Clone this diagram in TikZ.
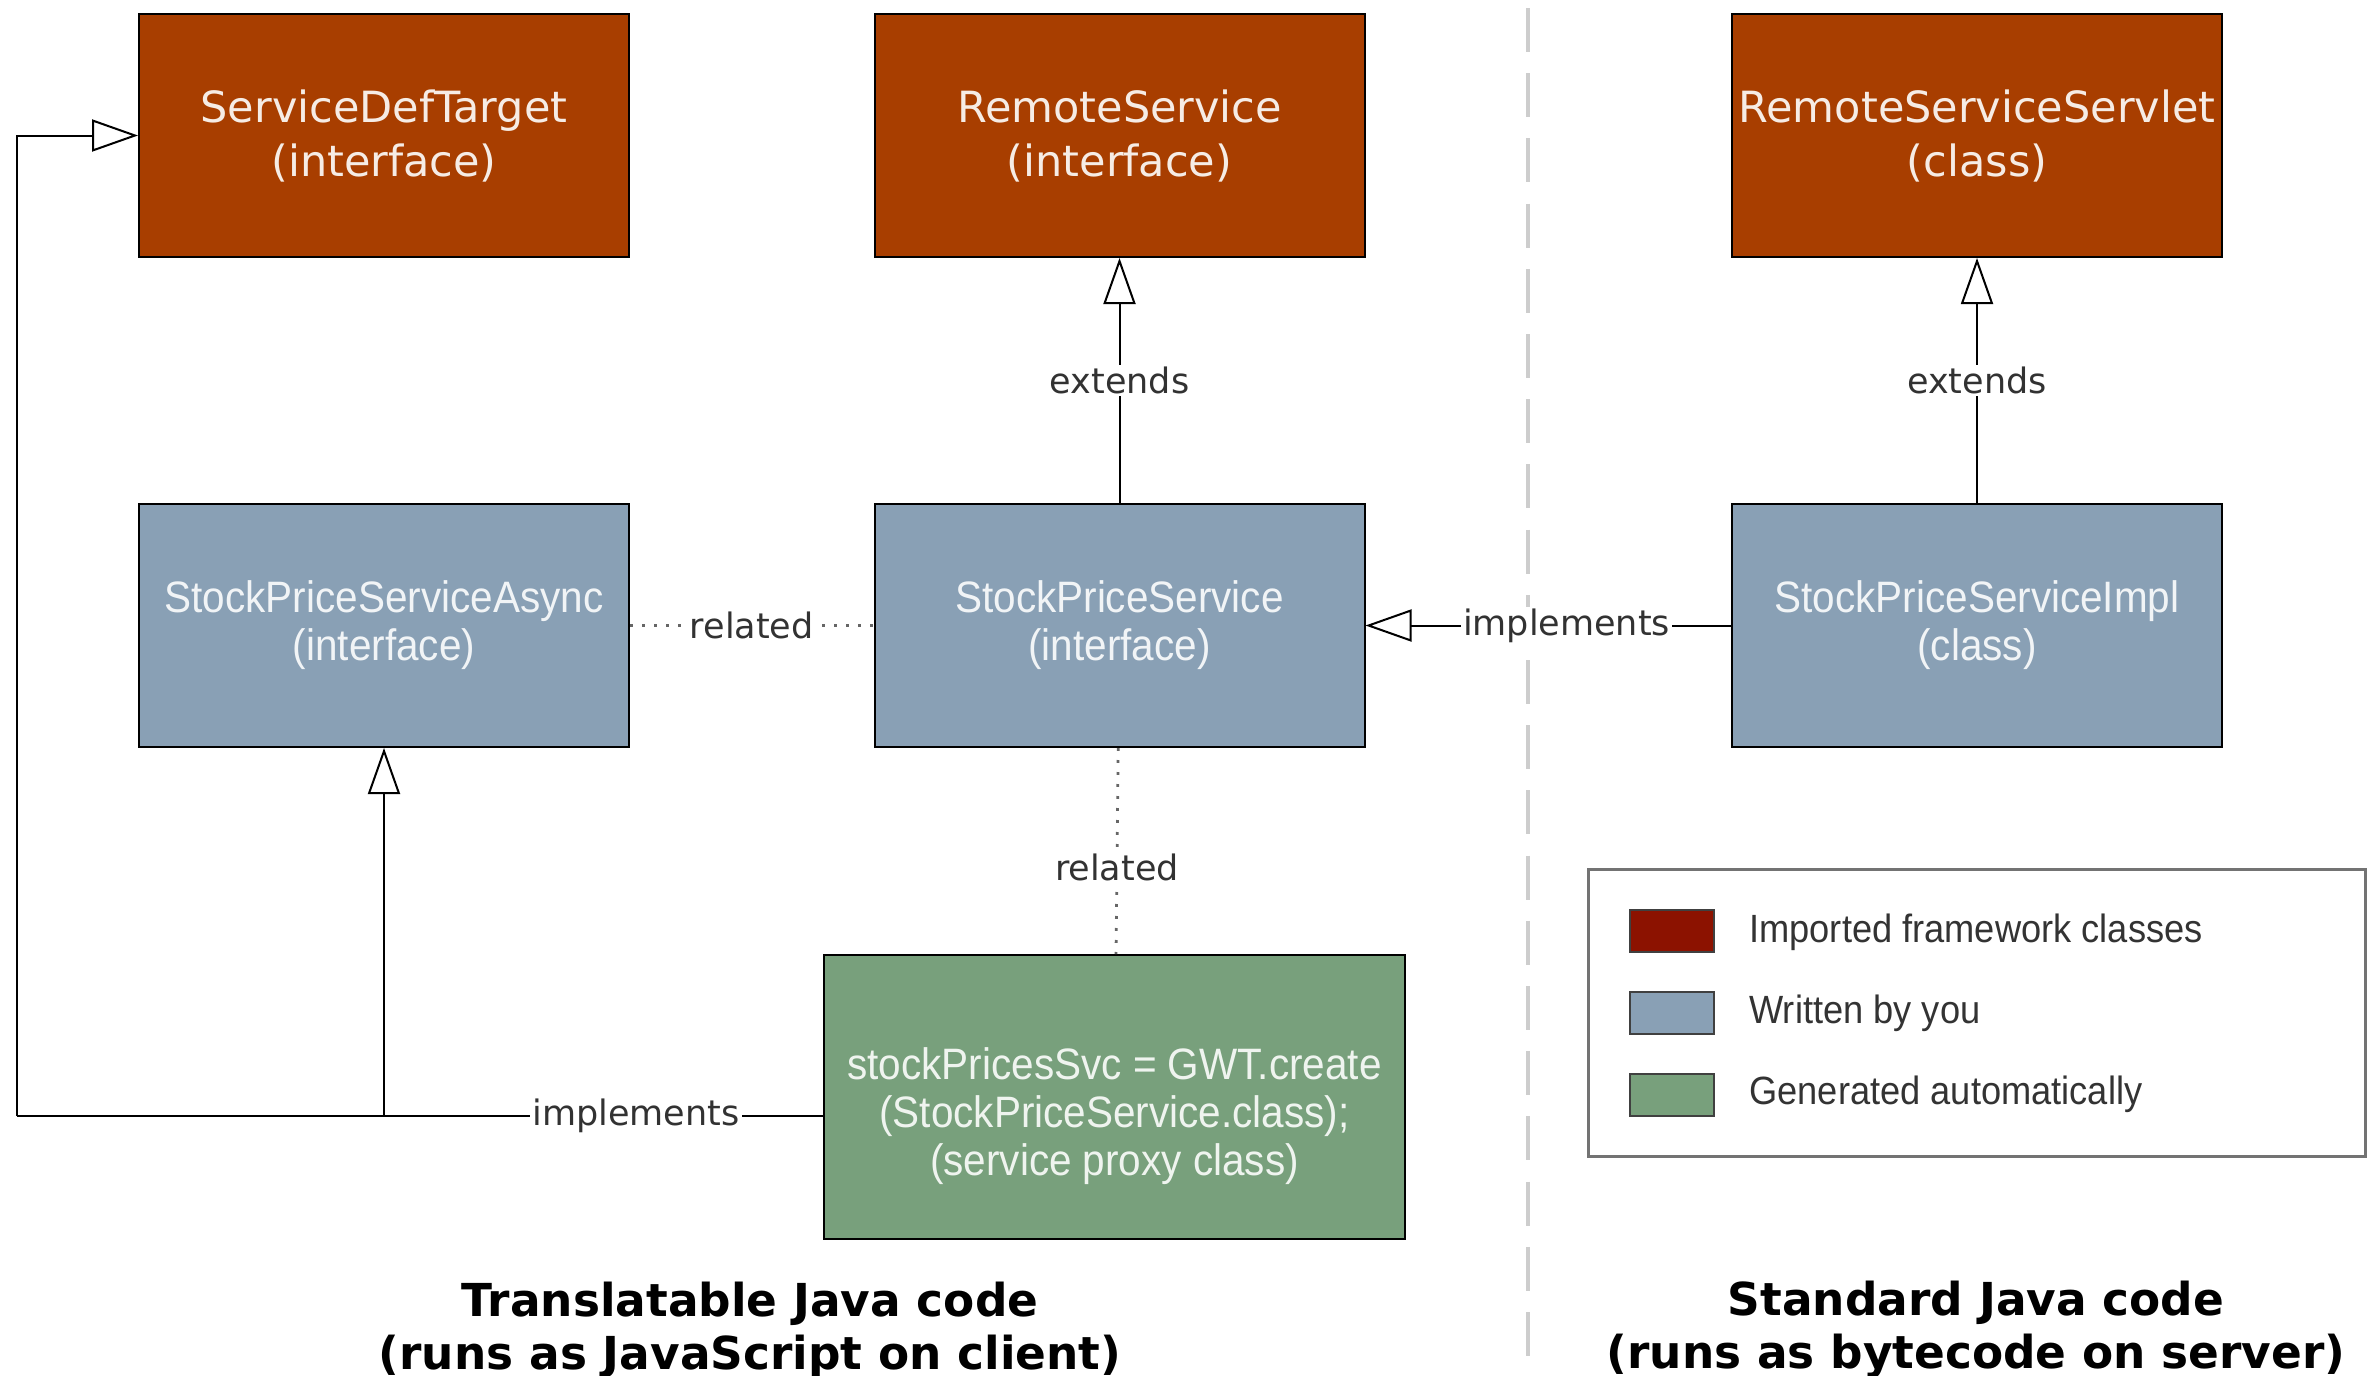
\documentclass[tikz,border=0pt]{standalone}
\usepackage{fontspec}
\usetikzlibrary{arrows.meta}
\newfontfamily\vwide{DejaVu Sans}
\newfontfamily\vlabel{DejaVu Sans}
\newfontfamily\narrowsans[FakeStretch=0.92]{Liberation Sans}

\definecolor{framework}{RGB}{168,62,0}
\definecolor{written}{RGB}{137,160,181}
\definecolor{generated}{RGB}{120,160,124}
\definecolor{legendred}{RGB}{140,18,0}
\definecolor{labelgray}{RGB}{50,50,50}
\definecolor{divider}{RGB}{205,205,205}

\tikzset{
  classbox/.style={draw=black, line width=1pt, minimum width=245pt,
    minimum height=121.5pt, align=center, inner sep=0pt},
  imported/.style={classbox, fill=framework, text=white!90!framework,
    font=\vwide\fontsize{21.5pt}{27pt}\selectfont},
  mine/.style={classbox, fill=written, text=white!88!written,
    font=\narrowsans\fontsize{22pt}{24pt}\selectfont},
  auto/.style={classbox, fill=generated, text=white!88!generated,
    font=\narrowsans\fontsize{22pt}{24pt}\selectfont},
  conn/.style={line width=1pt, draw=black},
  uml/.style={conn, -{Triangle[open, length=23pt, width=16pt, fill=white]}},
  rel/.style={line width=1.4pt, draw=black!60, dash pattern=on 1.4pt off 4.6pt},
  edgelabel/.style={fill=white, text=labelgray, inner sep=1pt,
    font=\vlabel\fontsize{17.5pt}{20pt}\selectfont},
  swatch/.style={draw=black!75, line width=1pt, minimum width=42pt,
    minimum height=21pt, inner sep=0pt},
  legendtext/.style={anchor=west, text=black!80, inner sep=0pt,
    font=\narrowsans\fontsize{19.7pt}{22pt}\selectfont},
  heading/.style={align=center, text=black, inner sep=0pt,
    font=\vlabel\bfseries\fontsize{22.7pt}{26.5pt}\selectfont}
}

\begin{document}
\begin{tikzpicture}[x=0.5pt, y=-0.5pt]
\useasboundingbox (0,0) rectangle (2372,1376);

% client / server divider
\draw[divider, line width=1.6pt, dash pattern=on 22pt off 10.6pt]
  (1528,8) -- (1528,1362);

% framework classes
\node[imported] (sdt) at (384,135.5) {ServiceDefTarget\\(interface)};
\node[imported] (rs)  at (1119.5,135.5) {RemoteService\\(interface)};
\node[imported] (rss) at (1977,135.5) {RemoteServiceServlet\\(class)};

% classes written by the developer
\node[mine] (spsa) at (384,625.5) {StockPriceServiceAsync\\(interface)};
\node[mine] (sps)  at (1119.5,625.5) {StockPriceService\\(interface)};
\node[mine] (spsi) at (1977,625.5) {StockPriceServiceImpl\\(class)};

% generated proxy (text block sits a little below the middle)
\node[auto, minimum width=290.5pt, minimum height=142pt] (proxy) at (1114.5,1097)
  {\begin{tabular}{@{}c@{}}\rule{0pt}{38pt}stockPricesSvc = GWT.create\\
   (StockPriceService.class);\\(service proxy class)\end{tabular}};

% inheritance
\draw[uml] (sps) -- node[edgelabel] {extends} (rs);
\draw[uml] (spsi) -- node[edgelabel] {extends} (rss);
\draw[uml] (spsi) -- node[edgelabel, pos=0.45] {implements} (sps);

% relations
\draw[rel] (spsa) -- node[edgelabel] {related} (sps);
\draw[rel] (sps) -- node[edgelabel, pos=0.58] {related} (proxy);

% proxy implements the async interface and ServiceDefTarget
\coordinate (corner) at (17,1116);
\coordinate (branch) at (384,1116);
\draw[conn] (proxy.west |- branch) -- node[edgelabel, pos=0.232] {implements} (corner);
\draw[uml] (branch) -- (spsa.south);
\draw[uml] (corner) |- (sdt.west);

% legend
\node[draw=black!55, line width=1.5pt, minimum width=388.5pt, minimum height=143.5pt,
  inner sep=0pt] (legend) at (1976.5,1013) {};
\node[swatch, fill=legendred] (sw1) at (1671.5,930.5) {};
\node[swatch, fill=written]   (sw2) at (1671.5,1013) {};
\node[swatch, fill=generated] (sw3) at (1671.5,1094.5) {};
\node[legendtext] (lt1) at (1749,932) {Imported framework classes};
\node[legendtext] (lt2) at (1749,1013) {Written by you};
\node[legendtext] (lt3) at (1749,1094) {Generated automatically};

% captions
\node[heading] (client) at (750,1330) {Translatable Java code\\(runs as JavaScript on client)};
\node[heading] (server) at (1976,1330) {Standard Java code\\(runs as bytecode on server)};
\end{tikzpicture}
\end{document}
